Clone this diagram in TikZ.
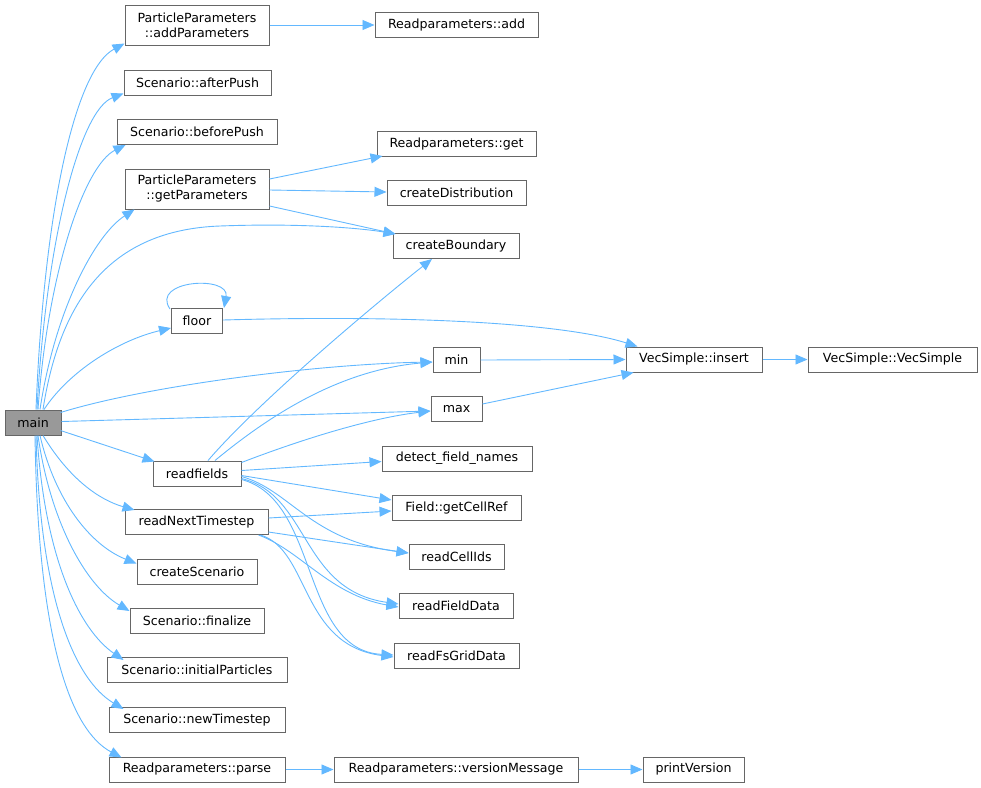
\documentclass[tikz,border=0pt]{standalone}
\usepackage{fontspec}
\setmainfont{DejaVu Sans}
\usetikzlibrary{arrows.meta,calc}
\definecolor{edgeblue}{HTML}{63B8FF}
\definecolor{boxborder}{HTML}{666666}
\definecolor{mainfill}{HTML}{999999}
\begin{document}
\begin{tikzpicture}[x=1pt,y=-1pt,
  box/.style={draw=boxborder, fill=white, line width=1pt, inner sep=0pt, align=center,
    font=\fontsize{12.6}{15}\selectfont, minimum height=25pt},
  edge/.style={draw=edgeblue, line width=0.9pt, -{Triangle[length=12pt,width=10pt]}}]
\useasboundingbox (0,0) rectangle (981,787);

% nodes
\node[box, fill=mainfill, minimum width=56] (main) at (33,422.5) {main};
\node[box, minimum width=144, minimum height=40] (addP) at (197,25) {ParticleParameters\\::addParameters};
\node[box, minimum width=147] (afterP) at (197.5,82.5) {Scenario::afterPush};
\node[box, minimum width=160] (beforeP) at (197,132) {Scenario::beforePush};
\node[box, minimum width=144, minimum height=40] (getP) at (197,189) {ParticleParameters\\::getParameters};
\node[box, minimum width=51] (floor) at (197,321) {floor};
\node[box, minimum width=88] (rf) at (197,473.5) {readfields};
\node[box, minimum width=143] (rnt) at (196.5,522) {readNextTimestep};
\node[box, minimum width=120] (cS) at (197,571.5) {createScenario};
\node[box, minimum width=134] (fin) at (197,621) {Scenario::finalize};
\node[box, minimum width=180] (iP) at (197,670) {Scenario::initialParticles};
\node[box, minimum width=176] (nT) at (197,720) {Scenario::newTimestep};
\node[box, minimum width=176] (parse) at (197,769.5) {Readparameters::parse};

\node[box, minimum width=163] (add) at (456.5,25) {Readparameters::add};
\node[box, minimum width=159] (get) at (456.5,144) {Readparameters::get};
\node[box, minimum width=139] (cD) at (456.5,193) {createDistribution};
\node[box, minimum width=126] (cB) at (456,246) {createBoundary};
\node[box, minimum width=47] (min) at (456.5,360) {min};
\node[box, minimum width=51] (max) at (456.5,409) {max};
\node[box, minimum width=150] (dfn) at (457,458.5) {detect\_field\_names};
\node[box, minimum width=129] (gcr) at (456.5,508) {Field::getCellRef};
\node[box, minimum width=95] (rci) at (456.5,557) {readCellIds};
\node[box, minimum width=114] (rfd) at (456,606) {readFieldData};
\node[box, minimum width=125] (rfs) at (456.5,656) {readFsGridData};
\node[box, minimum width=244] (vm) at (456,769.5) {Readparameters::versionMessage};

\node[box, minimum width=136] (ins) at (694,359.5) {VecSimple::insert};
\node[box, minimum width=169] (vs) at (892.5,359.5) {VecSimple::VecSimple};
\node[box, minimum width=101] (pv) at (693.5,769.5) {printVersion};

% edges from main (upwards)
\draw[edge] ($(main.north)+(3,0)$) .. controls (44,210) and (75,70) .. ($(addP.south west)+(0,-2)$);
\draw[edge] ($(main.north)+(4,0)$) .. controls (46,240) and (80,110) .. ($(afterP.south west)+(0,-2)$);
\draw[edge] ($(main.north)+(5,0)$) .. controls (48,270) and (85,165) .. ($(beforeP.south west)+(9,0)$);
\draw[edge] ($(main.north)+(7,0)$) .. controls (55,310) and (95,235) .. ($(getP.south west)+(10,0)$);
\draw[edge] ($(main.north)+(10,0)$) .. controls (60,300) and (110,230) .. (220,226) .. controls (300,223) and (360,228) .. ($(cB.north west)+(3,1)$);
\draw[edge] ($(main.north)+(11,0)$) .. controls (70,370) and (120,340) .. ($(floor.south west)+(0,-6)$);
\draw[edge] ($(main.north east)+(-1,3)$) .. controls (150,385) and (320,364) .. ($(min.west)+(0,2)$);
\draw[edge] ($(main.east)+(0,-1)$) -- ($(max.west)+(0,2)$);
\draw[edge] ($(main.east)+(-1,8)$) -- ($(rf.north west)+(2,1)$);
% edges from main (downwards)
\draw[edge] ($(main.south)+(10,0)$) .. controls (70,480) and (100,500) .. ($(rnt.north west)+(10,1)$);
\draw[edge] ($(main.south)+(7,0)$) .. controls (55,500) and (90,545) .. ($(cS.west)+(0,-8)$);
\draw[edge] ($(main.south)+(5,0)$) .. controls (50,520) and (85,585) .. ($(fin.north west)+(0,3)$);
\draw[edge] ($(main.south)+(4,0)$) .. controls (45,560) and (80,630) .. ($(iP.north west)+(17,3)$);
\draw[edge] ($(main.south)+(3,0)$) .. controls (40,600) and (75,680) .. ($(nT.north west)+(15,2)$);
\draw[edge] ($(main.south)+(2,0)$) .. controls (38,640) and (70,730) .. ($(parse.north west)+(13,1)$);

% second level
\draw[edge] (addP.east) -- (add.west);
\draw[edge] ($(getP.east)+(0,-10)$) -- ($(get.south west)+(6,-1)$);
\draw[edge] ($(getP.east)+(0,1)$) -- ($(cD.west)+(0,-1)$);
\draw[edge] ($(getP.east)+(0,17)$) -- ($(cB.north west)+(3,1)$);

\draw[edge] ($(floor.north west)+(-1,1)$) .. controls (150,280) and (230,275) .. ($(floor.north east)+(1,0)$);
\draw[edge] ($(floor.east)+(0,-1)$) .. controls (400,315) and (560,322) .. ($(ins.north west)+(12,0)$);
\draw[edge] (min.east) -- ($(ins.west)+(0,0)$);
\draw[edge] ($(max.east)+(0,-5)$) -- ($(ins.south west)+(8,0)$);
\draw[edge] (ins.east) -- (vs.west);

% readfields
\draw[edge] ($(rf.north)+(11,0)$) .. controls (260,400) and (380,300) .. ($(cB.south)+(-24,0)$);
\draw[edge] ($(rf.north)+(18,0)$) .. controls (270,415) and (340,370) .. ($(min.west)+(0,2)$);
\draw[edge] ($(rf.north east)+(0,2)$) .. controls (300,440) and (370,418) .. ($(max.west)+(0,2)$);
\draw[edge] ($(rf.east)+(0,-3)$) -- ($(dfn.west)+(0,3)$);
\draw[edge] ($(rf.east)+(0,2)$) -- ($(gcr.west)+(0,-8)$);
\draw[edge] ($(rf.east)+(0,3)$) .. controls (290,490) and (310,540) .. ($(rci.west)+(0,-4)$);
\draw[edge] ($(rf.east)+(0,5)$) .. controls (310,495) and (300,590) .. ($(rfd.west)+(0,-2)$);
\draw[edge] ($(rf.east)+(0,6)$) .. controls (320,500) and (300,650) .. ($(rfs.west)+(0,-1)$);

% readNextTimestep
\draw[edge] ($(rnt.east)+(0,-4)$) -- ($(gcr.west)+(0,3)$);
\draw[edge] ($(rnt.east)+(0,10)$) -- ($(rci.west)+(0,-4)$);
\draw[edge] ($(rnt.south east)+(-10,0)$) .. controls (300,550) and (330,595) .. ($(rfd.west)+(0,1)$);
\draw[edge] ($(rnt.south east)+(-8,0)$) .. controls (310,550) and (300,645) .. ($(rfs.west)+(0,1)$);

% parse chain
\draw[edge] (parse.east) -- (vm.west);
\draw[edge] (vm.east) -- (pv.west);
\end{tikzpicture}
\end{document}
